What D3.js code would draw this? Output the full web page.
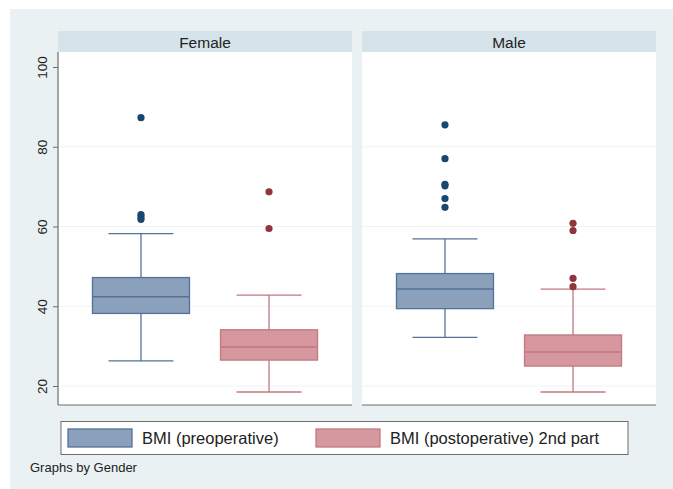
<!DOCTYPE html>
<html>
<head>
<meta charset="utf-8">
<script src="https://cdn.jsdelivr.net/npm/d3@7"></script>
<style>
  body { margin: 0; background: #fff; }
  text { font-family: "Liberation Sans", Arial, sans-serif; }
</style>
</head>
<body>
<svg width="673" height="489"></svg>
<script>
// panels and series
const genders = ['Female', 'Male'];
const seriesNames = ['BMI (preoperative)', 'BMI (postoperative) 2nd part'];
const yTicks = [20, 40, 60, 80, 100];

// box stats per gender: [lowWhisker, q1, median, q3, highWhisker]
const femalePre = [26.3, 38.2, 42.4, 47.2, 58.2];
const femalePost = [18.5, 26.5, 29.8, 34.1, 42.8];
const malePre = [32.2, 39.4, 44.3, 48.2, 56.9];
const malePost = [18.5, 25.0, 28.5, 32.8, 44.3];

// outliers
const femalePreOut = [87.3, 63.0, 62.4, 61.8];
const femalePostOut = [68.7, 59.5];
const malePreOut = [85.5, 77.0, 70.6, 70.2, 67.0, 64.8];
const malePostOut = [60.8, 59.0, 47.0, 44.9];

const fills = ['#8ba1bb', '#d6979f'];
const strokes = ['#52729a', '#c07882'];
const dotColors = ['#1a476f', '#90353b'];

const svg = d3.select('svg');

// outer background
svg.append('rect')
  .attr('x', 10).attr('y', 9)
  .attr('width', 663).attr('height', 480)
  .attr('fill', '#eaf1f3');

const panelW = 294, panelTop = 52, panelBottom = 405;
const panelX = d3.scaleOrdinal().domain(genders).range([58, 362]);

const y = d3.scaleLinear().domain([20, 100]).range([386, 67]);
const x = d3.scalePoint().domain(seriesNames).range([0, panelW]).padding(0.648);
const boxW = 97, capW = 65;

const stats = {
  Female: [femalePre, femalePost],
  Male: [malePre, malePost]
};
const outs = {
  Female: [femalePreOut, femalePostOut],
  Male: [malePreOut, malePostOut]
};

genders.forEach(g => {
  const p = svg.append('g').attr('transform', `translate(${panelX(g)},0)`);

  // header strip
  p.append('rect')
    .attr('x', 0).attr('y', 31)
    .attr('width', panelW).attr('height', panelTop - 31)
    .attr('fill', '#d6e3ea');
  p.append('text')
    .attr('x', panelW / 2).attr('y', 47.5)
    .attr('text-anchor', 'middle')
    .attr('font-size', 15.5)
    .attr('fill', '#222')
    .text(g);

  // plot region
  p.append('rect')
    .attr('x', 0).attr('y', panelTop)
    .attr('width', panelW).attr('height', panelBottom - panelTop)
    .attr('fill', '#fff');

  // grid
  p.selectAll('.grid').data(yTicks.slice(0, 4)).join('line')
    .attr('x1', 0).attr('x2', panelW)
    .attr('y1', d => y(d)).attr('y2', d => y(d))
    .attr('stroke', '#eef3f5').attr('stroke-width', 1);

  // bottom axis line
  p.append('line')
    .attr('x1', 0).attr('x2', panelW)
    .attr('y1', panelBottom).attr('y2', panelBottom)
    .attr('stroke', '#6e6e6e').attr('stroke-width', 1.2);

  seriesNames.forEach((s, i) => {
    const [lo, q1, med, q3, hi] = stats[g][i];
    const cx = x(s);
    const bg = p.append('g');

    bg.append('line')
      .attr('x1', cx).attr('x2', cx)
      .attr('y1', y(hi)).attr('y2', y(q3))
      .attr('stroke', strokes[i]).attr('stroke-width', 1.3);
    bg.append('line')
      .attr('x1', cx).attr('x2', cx)
      .attr('y1', y(q1)).attr('y2', y(lo))
      .attr('stroke', strokes[i]).attr('stroke-width', 1.3);
    [lo, hi].forEach(v => {
      bg.append('line')
        .attr('x1', cx - capW / 2).attr('x2', cx + capW / 2)
        .attr('y1', y(v)).attr('y2', y(v))
        .attr('stroke', strokes[i]).attr('stroke-width', 1.3);
    });
    bg.append('rect')
      .attr('x', cx - boxW / 2).attr('y', y(q3))
      .attr('width', boxW).attr('height', y(q1) - y(q3))
      .attr('fill', fills[i])
      .attr('stroke', strokes[i]).attr('stroke-width', 1.3);
    bg.append('line')
      .attr('x1', cx - boxW / 2).attr('x2', cx + boxW / 2)
      .attr('y1', y(med)).attr('y2', y(med))
      .attr('stroke', strokes[i]).attr('stroke-width', 1.5);

    bg.selectAll('circle').data(outs[g][i]).join('circle')
      .attr('cx', cx).attr('cy', d => y(d))
      .attr('r', 3.6)
      .attr('fill', dotColors[i]);
  });
});

// y axis on left of first panel
const yAxis = svg.append('g')
  .attr('transform', `translate(${panelX('Female')},0)`)
  .call(d3.axisLeft(y).tickValues(yTicks).tickSize(5).tickPadding(4));
yAxis.select('.domain')
  .attr('d', `M0,${panelTop}V${panelBottom}`)
  .attr('stroke', '#6e6e6e').attr('stroke-width', 1.2);
yAxis.selectAll('.tick line').attr('stroke', '#6e6e6e');
yAxis.selectAll('.tick text')
  .attr('transform', 'rotate(-90)')
  .attr('x', 0).attr('y', -11)
  .attr('dy', 0)
  .attr('text-anchor', 'middle')
  .attr('font-size', 13.5)
  .attr('font-family', '"Liberation Sans", Arial, sans-serif')
  .attr('fill', '#222');

// legend
const lg = svg.append('g');
lg.append('rect')
  .attr('x', 61).attr('y', 421.5)
  .attr('width', 567).attr('height', 33)
  .attr('fill', '#fff')
  .attr('stroke', '#6e6e6e').attr('stroke-width', 1);
const legX = [68, 316];
seriesNames.forEach((s, i) => {
  lg.append('rect')
    .attr('x', legX[i]).attr('y', 429)
    .attr('width', 64).attr('height', 18)
    .attr('fill', fills[i])
    .attr('stroke', strokes[i]).attr('stroke-width', 1.3);
  lg.append('text')
    .attr('x', legX[i] + 74).attr('y', 444)
    .attr('font-size', 16.5)
    .attr('fill', '#222')
    .text(s);
});

svg.append('text')
  .attr('x', 30).attr('y', 472)
  .attr('font-size', 13)
  .attr('fill', '#222')
  .text('Graphs by Gender');
</script>
</body>
</html>
